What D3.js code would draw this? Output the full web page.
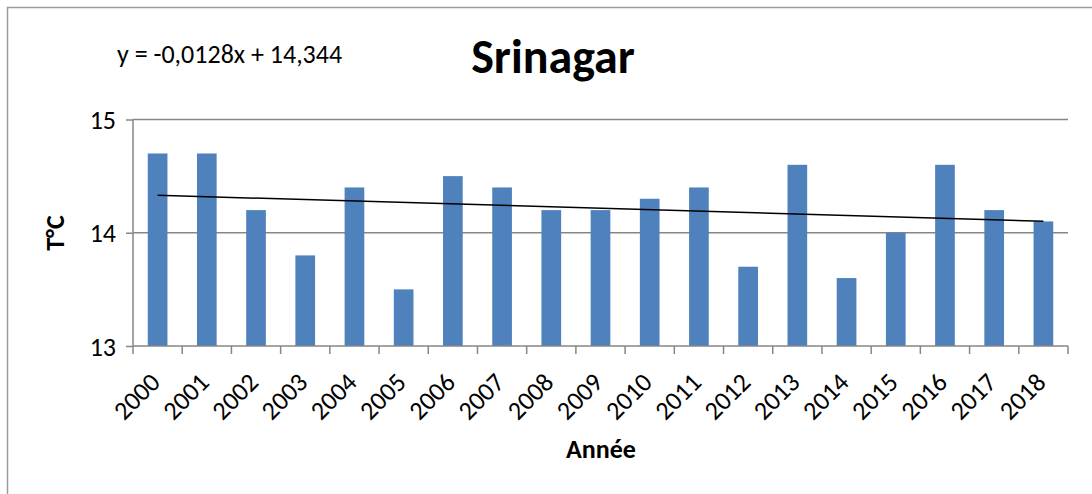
<!DOCTYPE html>
<html><head><meta charset="utf-8">
<script src="https://cdn.jsdelivr.net/npm/d3@7"></script>
<style>body{margin:0;background:#fff}svg{display:block}text{font-family:Carlito,Calibri,Lato,"Open Sans",sans-serif}</style>
</head><body>
<svg id="c" width="1092" height="494"></svg>
<script>
const years = ["2000","2001","2002","2003","2004","2005","2006","2007","2008","2009","2010","2011","2012","2013","2014","2015","2016","2017","2018"];
const temps = [14.7,14.7,14.2,13.8,14.4,13.5,14.5,14.4,14.2,14.2,14.3,14.4,13.7,14.6,13.6,14.0,14.6,14.2,14.1];
const yTicks = [13,14,15];
const trendSlope = -0.0128, trendIntercept = 14.344;
const title = "Srinagar", xTitle = "Année", yTitle = "T°C";
const eqText = "y = -0,0128x + 14,344";

const svg = d3.select("#c");
const L = 133, R = 1068, T = 119.5, B = 346;
svg.append("path").attr("d","M7.5,494 V7.5 H1092").attr("fill","none").attr("stroke","#9a9a9a").attr("stroke-width",1.5);

const x = d3.scaleBand().domain(years).range([L,R]).paddingInner(0.6).paddingOuter(0.3);
const y = d3.scaleLinear().domain([13,15]).range([B,T]);

// gridlines
svg.append("g").selectAll("line").data(yTicks.slice(1)).join("line")
  .attr("x1",L).attr("x2",R).attr("y1",d=>y(d)).attr("y2",d=>y(d))
  .attr("stroke","#868686").attr("stroke-width",1.5);

// bars
svg.append("g").selectAll("rect").data(temps).join("rect")
  .attr("x",(d,i)=>x(years[i])).attr("width",x.bandwidth())
  .attr("y",d=>y(d)).attr("height",d=>B-y(d))
  .attr("fill","#4F81BD");

// y axis
const ya = svg.append("g").attr("transform",`translate(${L},0)`)
  .call(d3.axisLeft(y).tickValues(yTicks).tickSize(7).tickPadding(10).tickFormat(d3.format("d")));
ya.select(".domain").attr("stroke","#868686").attr("stroke-width",1.5).attr("d",`M0,${T}V${B}`);
ya.selectAll(".tick line").attr("stroke","#868686").attr("stroke-width",1.5);
ya.selectAll("text").attr("font-size",26).attr("fill","#000").attr("dy","0.35em");

// x axis
const step = x.step();
const xa = svg.append("g").attr("transform",`translate(0,${B})`);
xa.append("line").attr("x1",L).attr("x2",R).attr("stroke","#868686").attr("stroke-width",1.5);
xa.selectAll("line.t").data(d3.range(years.length+1)).join("line").attr("class","t")
  .attr("x1",i=>L+i*step).attr("x2",i=>L+i*step).attr("y1",0).attr("y2",8)
  .attr("stroke","#868686").attr("stroke-width",1.5);
xa.selectAll("text").data(years).join("text")
  .attr("transform",d=>`translate(${x(d)+x.bandwidth()/2-9},${25}) rotate(-45)`)
  .attr("text-anchor","end").attr("dy","0.7em").attr("font-size",26).attr("fill","#000").text(d=>d);

// trendline
const line = d3.line().x(d=>x(d.yr)+x.bandwidth()/2).y(d=>y(d.v));
const trend = years.map((yr,i)=>({yr, v: trendIntercept + trendSlope*(i+1)}));
svg.append("path").datum([trend[0], trend[trend.length-1]]).attr("d",line)
  .attr("fill","none").attr("stroke","#000").attr("stroke-width",1.5);

// texts
svg.append("text").attr("x",553).attr("y",73).attr("text-anchor","middle")
  .attr("font-size",48).attr("font-weight","bold").text(title);
svg.append("text").attr("x",117).attr("y",63).attr("font-size",26).text(eqText);
svg.append("text").attr("x",601).attr("y",458).attr("text-anchor","middle")
  .attr("font-size",26).attr("font-weight","bold").text(xTitle);
svg.append("text").attr("transform","translate(64,233) rotate(-90)").attr("text-anchor","middle")
  .attr("font-size",26).attr("font-weight","bold").text(yTitle);
</script>
</body></html>
